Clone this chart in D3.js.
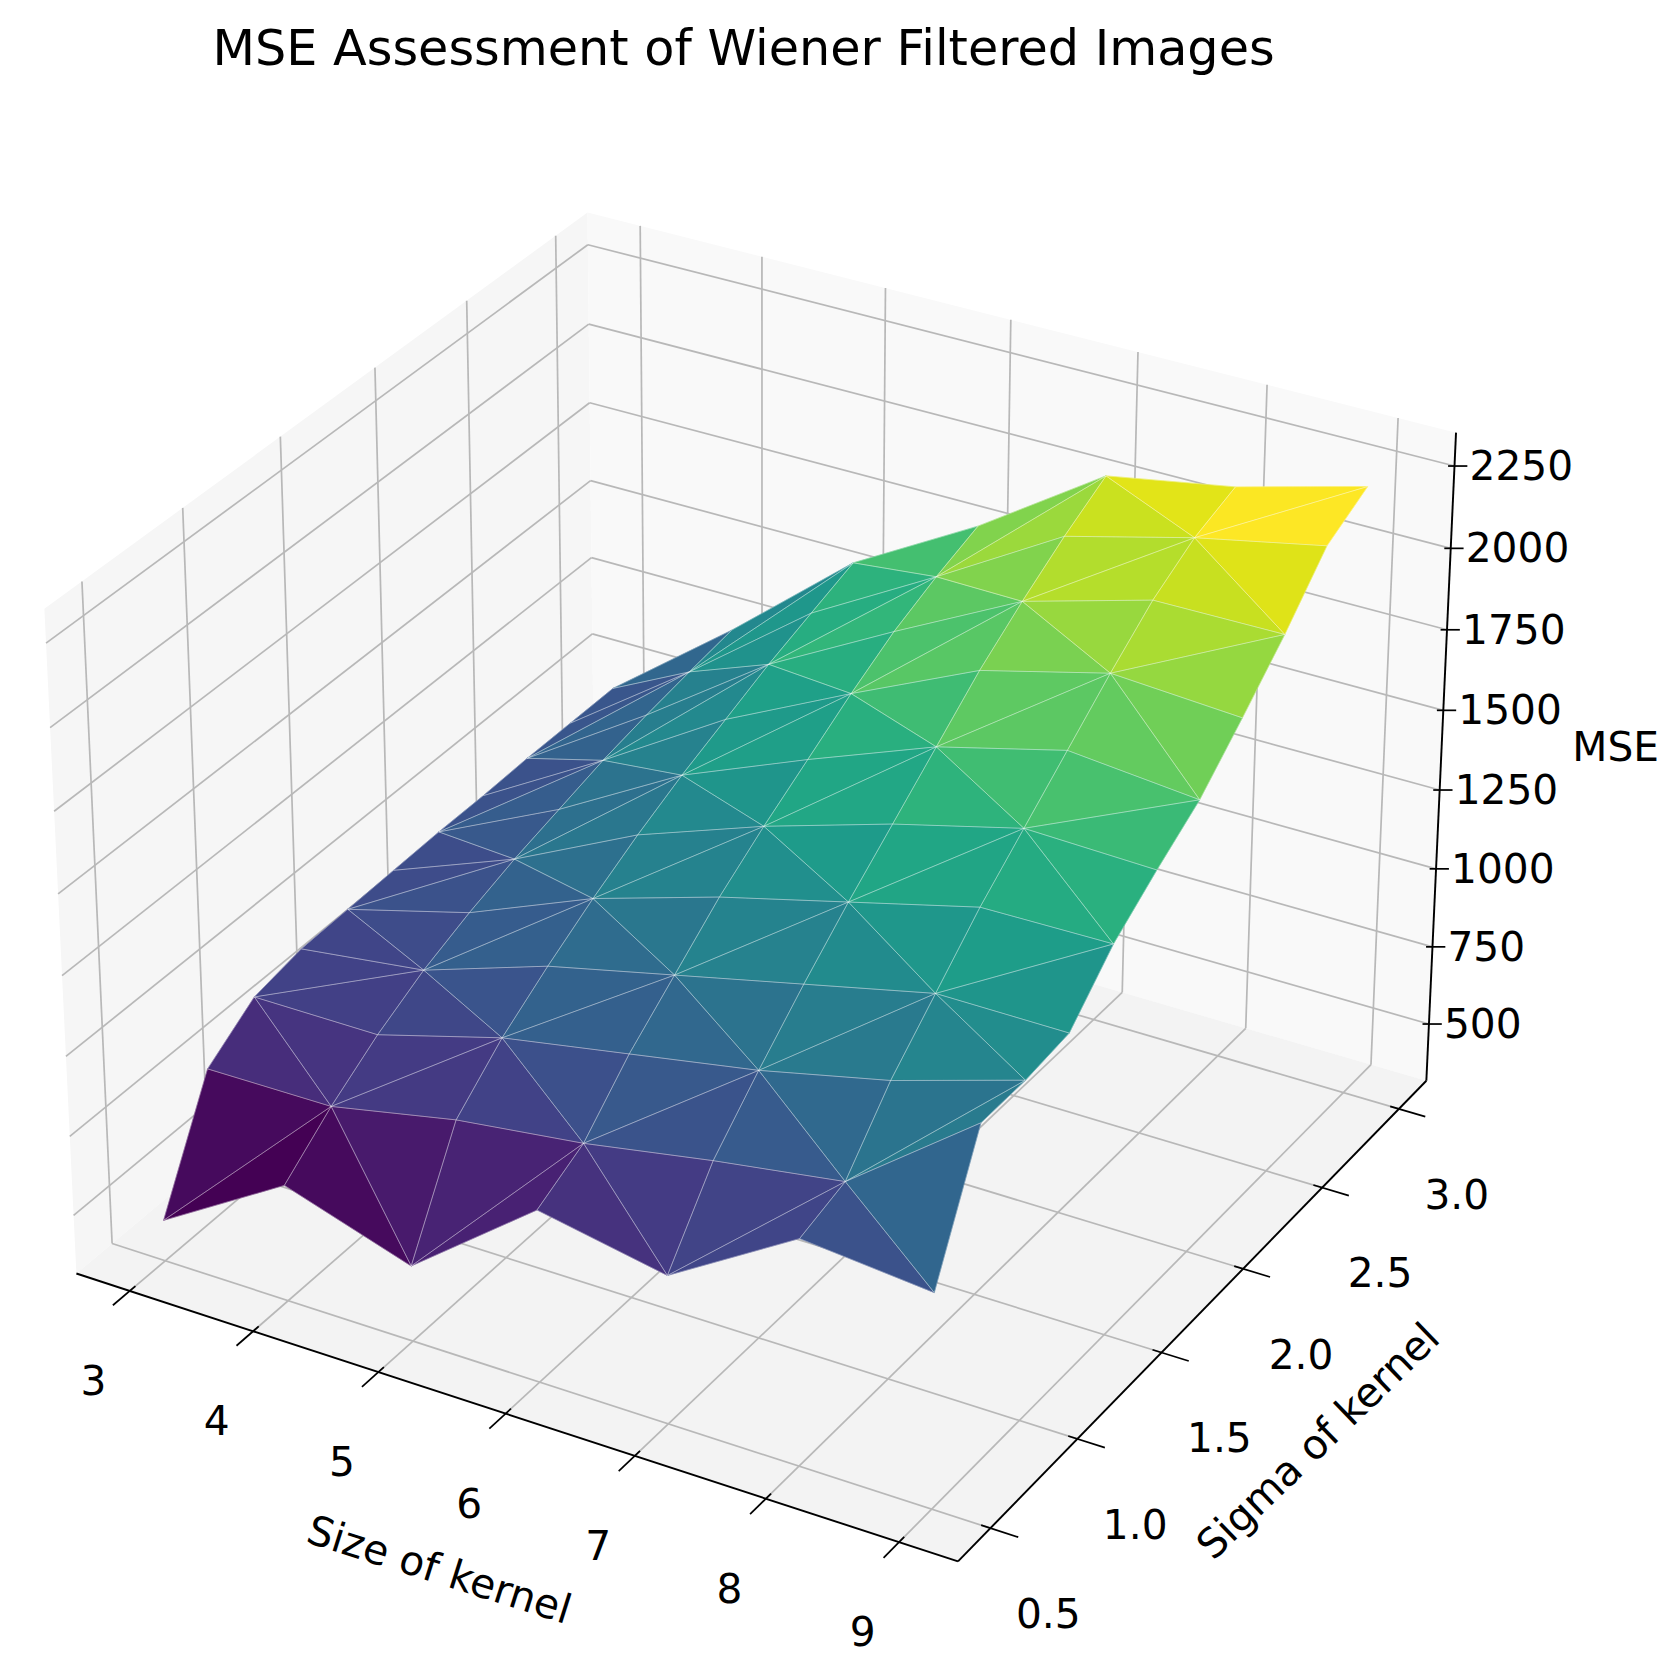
<!DOCTYPE html>
<html><head><meta charset="utf-8">
<script src="https://cdn.jsdelivr.net/npm/d3@7"></script>
<style>body{margin:0;background:#fff}text{font-family:"DejaVu Sans",sans-serif;fill:#000}</style>
</head><body>
<svg id="c" width="1680" height="1680"></svg>
<script>
const sizes=[3,4,5,6,7,8,9];
const sigmas=[0.5,0.75,1.0,1.25,1.5,1.75,2.0,2.25,2.5,2.75,3.0];
const mseSize3=[444,797,900,930,935,940,945,945,950,950,950];
const mseSize4=[680,800,900,980,1040,1090,1130,1170,1200,1225,1247];
const mseSize5=[552,880,1010,1110,1200,1280,1350,1410,1470,1520,1569];
const mseSize6=[853,930,1080,1200,1320,1420,1510,1600,1680,1740,1789];
const mseSize7=[777,1000,1150,1290,1420,1540,1660,1780,1880,1970,2048];
const mseSize8=[1017,1060,1240,1380,1520,1640,1760,1880,1990,2070,2117];
const mseSize9=[980,1361,1362,1379,1525,1628,1722,1854,1993,2150,2221];
const mseRows=[mseSize3,mseSize4,mseSize5,mseSize6,mseSize7,mseSize8,mseSize9];
const xTicks=[3,4,5,6,7,8,9];
const yTicks=[0.5,1.0,1.5,2.0,2.5,3.0];
const zTicks=[500,750,1000,1250,1500,1750,2000,2250];
const title="MSE Assessment of Wiener Filtered Images";

const K=1680/1568;
const svg=d3.select("#c");
const g=svg.append("g").attr("transform",`scale(${K})`);

function lims(a){const mn=d3.min(a),mx=d3.max(a),r=mx-mn;const l=[mn-0.05*r,mx+0.05*r];const p=(l[1]-l[0])/48;return {l,p:[l[0]-p,l[1]+p]};}
const allZ=mseRows.flat();
const LX=lims(sizes),LY=lims(sigmas),LZ=lims(allZ);
const kA=1.8294640721620434/Math.sqrt(41);
const A=[4*kA,4*kA,3*kA];
const el=30*Math.PI/180,az=-60*Math.PI/180;
const R=A.map(v=>v/2);
const ps=[Math.cos(el)*Math.cos(az),Math.cos(el)*Math.sin(az),Math.sin(el)];
const eye=R.map((r,i)=>r+10*ps[i]);
const norm=v=>{const n=Math.hypot(...v);return v.map(x=>x/n)};
const cross=(a,b)=>[a[1]*b[2]-a[2]*b[1],a[2]*b[0]-a[0]*b[2],a[0]*b[1]-a[1]*b[0]];
const dot=(a,b)=>a[0]*b[0]+a[1]*b[1]+a[2]*b[2];
const w=norm(eye.map((e,i)=>e-R[i]));
const u=norm(cross([0,0,1],w));
const v=cross(w,u);
const sxs=d3.scaleLinear().domain(LX.l).range([0,A[0]]);
const sys=d3.scaleLinear().domain(LY.l).range([0,A[1]]);
const szs=d3.scaleLinear().domain(LZ.l).range([0,A[2]]);
function raw(x,y,z){const p=[sxs(x)-eye[0],sys(y)-eye[1],szs(z)-eye[2]];const zv=dot(w,p);return [dot(u,p)/(-zv),dot(v,p)/(-zv),zv];}
const anchors=[[[LX.p[0],LY.p[0],LZ.p[0]],[65,1195]],[[LX.p[1],LY.p[1],LZ.p[0]],[1335,1018]],[[LX.p[1],LY.p[0],LZ.p[0]],[900,1440]],[[LX.p[0],LY.p[1],LZ.p[1]],[545,200]]];
const P=anchors.map(a=>raw(...a[0]));
const mX=d3.mean(P,p=>p[0]),mY=d3.mean(P,p=>p[1]),mpx=d3.mean(anchors,a=>a[1][0]),mpy=d3.mean(anchors,a=>a[1][1]);
let num=0,den=0;P.forEach((p,i)=>{num+=(p[0]-mX)*(anchors[i][1][0]-mpx)-(p[1]-mY)*(anchors[i][1][1]-mpy);den+=(p[0]-mX)**2+(p[1]-mY)**2;});
const s=num/den,cx=mpx-s*mX,cy=mpy+s*mY;
function pr(x,y,z){const r=raw(x,y,z);return [cx+s*r[0],cy-s*r[1],r[2]];}
const line=(pts)=>"M"+pts.map(p=>p[0].toFixed(2)+","+p[1].toFixed(2)).join("L");
const [x0,x1]=LX.p,[y0,y1]=LY.p,[z0,z1]=LZ.p;
const poly=(pts,fill)=>g.append("path").attr("d",line(pts.map(p=>pr(...p)))+"Z").attr("fill",fill).attr("stroke","none");
poly([[x0,y0,z0],[x0,y1,z0],[x0,y1,z1],[x0,y0,z1]],"#f6f6f6");
poly([[x0,y1,z0],[x1,y1,z0],[x1,y1,z1],[x0,y1,z1]],"#f9f9f9");
poly([[x0,y0,z0],[x1,y0,z0],[x1,y1,z0],[x0,y1,z0]],"#f3f3f3");
const gl=(a,b)=>g.append("path").attr("d",line([pr(...a),pr(...b)])).attr("stroke","#b8b8b8").attr("stroke-width",1.6).attr("fill","none");
xTicks.forEach(t=>{gl([t,y0,z0],[t,y1,z0]);gl([t,y1,z0],[t,y1,z1]);});
yTicks.forEach(t=>{gl([x0,t,z0],[x1,t,z0]);gl([x0,t,z0],[x0,t,z1]);});
zTicks.forEach(t=>{gl([x0,y0,t],[x0,y1,t]);gl([x0,y1,t],[x1,y1,t]);});
const al=(a,b)=>g.append("path").attr("d",line([pr(...a),pr(...b)])).attr("stroke","#000").attr("stroke-width",1.8).attr("fill","none");
al([x0,y0,z0],[x1,y0,z0]);al([x1,y0,z0],[x1,y1,z0]);al([x1,y1,z0],[x1,y1,z1]);
const tris=[];
for(let i=0;i<sizes.length-1;i++)for(let j=0;j<sigmas.length-1;j++){
  const p00=[sizes[i],sigmas[j],mseRows[i][j]],p10=[sizes[i+1],sigmas[j],mseRows[i+1][j]],p01=[sizes[i],sigmas[j+1],mseRows[i][j+1]],p11=[sizes[i+1],sigmas[j+1],mseRows[i+1][j+1]];
  if((i+j)%2===0){tris.push([p00,p10,p11]);tris.push([p00,p11,p01]);}else{tris.push([p00,p10,p01]);tris.push([p10,p11,p01]);}
}
const tz=tris.map(t=>d3.mean(t,p=>p[2]));
const cs=d3.scaleSequential(d3.interpolateViridis).domain(d3.extent(tz));
const td=tris.map((t,k)=>{const q=t.map(p=>pr(...p));return {q,d:d3.mean(q,p=>p[2]),c:cs(tz[k])};}).sort((a,b)=>a.d-b.d);
g.append("g").selectAll("path").data(td).join("path").attr("d",d=>line(d.q)+"Z").attr("fill",d=>d.c).attr("stroke",d=>d.c).attr("stroke-width",0.6);
g.append("g").selectAll("path").data(td).join("path").attr("d",d=>line(d.q)+"Z").attr("fill","none").attr("stroke","rgba(255,255,255,0.28)").attr("stroke-width",0.9);
const FS=38;
xTicks.forEach(t=>{const a=pr(t,y0+0.01*(y1-y0),z0),b=pr(t,y0-0.03*(y1-y0),z0);g.append("path").attr("d",line([a,b])).attr("stroke","#000").attr("stroke-width",1.6);
  const c=pr(t,y0,z0);g.append("text").attr("x",c[0]-34).attr("y",c[1]+84).attr("text-anchor","middle").attr("dominant-baseline","central").attr("font-size",FS).text(t);});
yTicks.forEach(t=>{const a=pr(x1-0.01*(x1-x0),t,z0),b=pr(x1+0.03*(x1-x0),t,z0);g.append("path").attr("d",line([a,b])).attr("stroke","#000").attr("stroke-width",1.6);
  const c=pr(x1,t,z0);g.append("text").attr("x",c[0]+54).attr("y",c[1]+80).attr("text-anchor","middle").attr("dominant-baseline","central").attr("font-size",FS).text(t.toFixed(1));});
zTicks.forEach(t=>{const c=pr(x1,y1,t);g.append("path").attr("d",line([[c[0]-6,c[1]],[c[0]+12,c[1]]])).attr("stroke","#000").attr("stroke-width",1.6);
  g.append("text").attr("x",c[0]+14).attr("y",c[1]).attr("dominant-baseline","central").attr("font-size",FS).text(t);});
g.append("text").attr("transform","translate(410,1465) rotate(17.5)").attr("text-anchor","middle").attr("dominant-baseline","central").attr("font-size",FS).text("Size of kernel");
g.append("text").attr("transform","translate(1230,1345) rotate(-44)").attr("text-anchor","middle").attr("dominant-baseline","central").attr("font-size",FS).text("Sigma of kernel");
g.append("text").attr("x",1508).attr("y",697).attr("text-anchor","middle").attr("dominant-baseline","central").attr("font-size",FS).text("MSE");
g.append("text").attr("x",694).attr("y",45).attr("text-anchor","middle").attr("dominant-baseline","central").attr("font-size",46).text(title);
</script></body></html>
